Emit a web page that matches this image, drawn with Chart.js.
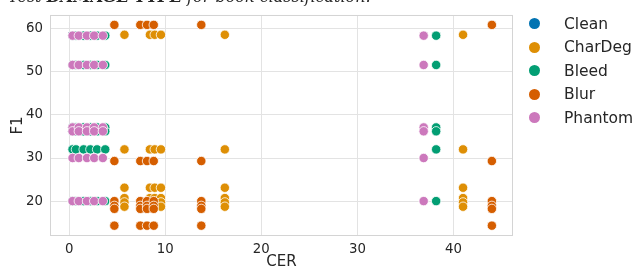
<!DOCTYPE html>
<html>
<head>
<meta charset="utf-8">
<script src="https://cdn.jsdelivr.net/npm/chart.js@4.4.1/dist/chart.umd.min.js"></script>
<style>
  html, body { margin: 0; padding: 0; background: #fff; }
  #wrap { position: relative; width: 642px; height: 269px; overflow: hidden; }
  #title {
    position: absolute; left: 8px; top: -11px; white-space: nowrap;
    font: italic 16px "DejaVu Serif", serif; color: #262626; line-height: 16px;
  }
  #legend { position: absolute; left: 529px; top: 12px; font: 15.5px "DejaVu Sans", sans-serif; color: #262626; }
  .item { height: 23.5px; display: flex; align-items: center; }
  .dot { width: 11px; height: 11px; border-radius: 50%; margin-right: 24px; }
</style>
</head>
<body>
<div id="wrap">
  <canvas id="chart" width="642" height="269"></canvas>
  <div id="title">Test <b>DAMAGE TYPE</b> for book classification.</div>
  <div id="legend"></div>
</div>
<script>
// values
const seriesNames = ['Clean', 'CharDeg', 'Bleed', 'Blur', 'Phantom'];

const cleanCER = [0.35];
const cleanF1 = [58.4, 51.6, 37.1, 36.2, 32.0, 20.0];

const charDegCER = [5.75, 8.4, 8.9, 9.55, 16.2, 41.0];
const charDegF1 = [58.6, 32.0, 23.1, 20.7, 19.7, 18.7];

const bleedCER = [0.35, 0.7, 1.5, 2.2, 2.9, 3.75, 38.2];
const bleedF1 = [58.4, 51.6, 37.1, 36.2, 32.0, 20.0];

const blurCER = [4.7, 7.4, 8.1, 8.8, 13.75, 44.0];
const blurF1 = [60.9, 29.3, 20.0, 18.9, 18.2, 14.3];

const phantomCER = [0.35, 1.0, 1.85, 2.6, 3.5, 36.9];
const phantomF1 = [58.4, 51.6, 37.1, 36.2, 30.0, 20.0];

const xTicks = [0, 10, 20, 30, 40];
const yTicks = [20, 30, 40, 50, 60];

// seaborn colorblind palette
const palette = ['#0173b2', '#de8f05', '#029e73', '#d55e00', '#cc78bc'];

// every CER level is paired with every model's F1
function points(cers, f1s) {
    const out = [];
    cers.forEach(x => f1s.forEach(y => out.push({ x: x, y: y })));
    return out;
}

const seriesData = [
    points(cleanCER, cleanF1),
    points(charDegCER, charDegF1),
    points(bleedCER, bleedF1),
    points(blurCER, blurF1),
    points(phantomCER, phantomF1)
];

const datasets = seriesNames.map((name, i) => ({
    label: name,
    data: seriesData[i],
    backgroundColor: palette[i],
    borderColor: '#ffffff',
    borderWidth: 0.8,
    pointRadius: 4.7,
    pointHoverRadius: 4.7,
    order: seriesNames.length - i // later series drawn on top
}));

// frame around the plot area, like seaborn spines
const frame = {
    id: 'frame',
    beforeDatasetsDraw(chart) {
        const a = chart.chartArea, c = chart.ctx;
        c.save();
        c.strokeStyle = '#d4d4d4';
        c.lineWidth = 1;
        c.strokeRect(a.left + 0.5, a.top + 0.5, a.right - a.left - 1, a.bottom - a.top - 1);
        c.restore();
    }
};

const tickFont = { family: 'DejaVu Sans', size: 13.3 };
const labelFont = { family: 'DejaVu Sans', size: 15 };

new Chart(document.getElementById('chart'), {
    type: 'scatter',
    data: { datasets: datasets },
    options: {
        responsive: false,
        animation: false,
        layout: { padding: { top: 10, right: 129, left: 0, bottom: 0 } },
        plugins: { legend: { display: false }, tooltip: { enabled: false } },
        scales: {
            x: {
                type: 'linear', min: -2, max: 46.2,
                afterBuildTicks: s => { s.ticks = xTicks.map(v => ({ value: v })); },
                afterFit: s => { s.height = 33; },
                grid: { color: '#e3e3e3', drawTicks: false },
                border: { display: false },
                ticks: { font: tickFont, color: '#262626', padding: 6 },
                title: { display: true, text: 'CER', font: labelFont, color: '#262626', padding: { top: 0, bottom: -2.5 } }
            },
            y: {
                type: 'linear', min: 11.9, max: 63.2,
                afterBuildTicks: s => { s.ticks = yTicks.map(v => ({ value: v })); },
                afterFit: s => { s.width = 50; },
                grid: { color: '#e3e3e3', drawTicks: false },
                border: { display: false },
                ticks: { font: tickFont, color: '#262626', padding: 7 },
                title: { display: true, text: 'F1', font: labelFont, color: '#262626', padding: { top: 9, bottom: 0 } }
            }
        }
    },
    plugins: [frame]
});

const legend = document.getElementById('legend');
seriesNames.forEach((name, i) => {
    const row = document.createElement('div');
    row.className = 'item';
    row.innerHTML = '<span class="dot" style="background:' + palette[i] + '"></span>' + name;
    legend.appendChild(row);
});
</script>
</body>
</html>
